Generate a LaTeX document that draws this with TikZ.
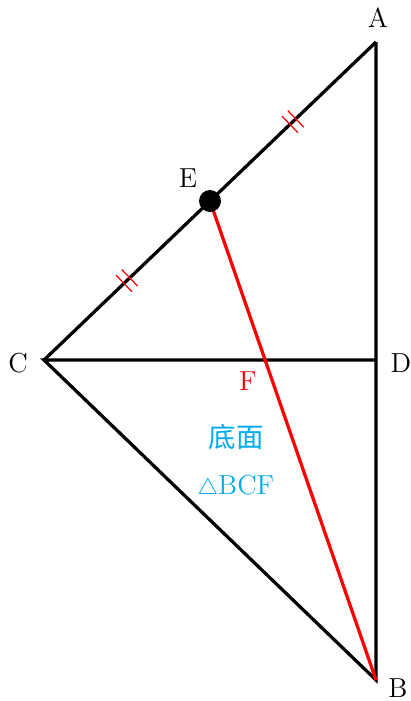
\documentclass[tikz,border=0pt]{standalone}
\usepackage{fontspec}
\newfontfamily\cjk{Noto Sans CJK SC}
\usetikzlibrary{calc, decorations.markings}

\definecolor{cBase}{RGB}{0,170,235}

\begin{document}
\begin{tikzpicture}[x=0.4pt, y=-0.4pt, font=\fontsize{11}{13}\selectfont,
  edge/.style={line width=1.3pt},
  eqmark/.style={postaction={decorate, decoration={markings,
    mark=at position 0.5 with {\draw[red, line width=0.5pt]
      (-1.6pt,-4.6pt) -- (-1.6pt,4.6pt) (1.6pt,-4.6pt) -- (1.6pt,4.6pt);}}}}]

%% Geometry in pixels of the page, y grows downwards.
\useasboundingbox (0,0) rectangle (411,701);

%% ---------- vertices ----------
\coordinate (A) at (376,42);
\coordinate (C) at (44,360);
\coordinate (D) at (376,360);
\coordinate (B) at (376,680);
\coordinate (E) at ($(C)!0.5!(A)$);
\coordinate (F) at (265,360);

%% ---------- the solid ----------
\draw[edge, eqmark] (C) -- (E);
\draw[edge, eqmark] (E) -- (A);
\draw[edge] (A) -- (D) -- (B) -- (C) -- (D);
\draw[edge, red] (E) -- (B);
\fill (E) circle (4.4pt);

%% ---------- labels ----------
\node (lA) at (378,18) {A};
\node (lB) at (398,688) {B};
\node (lC) at (18,363) {C};
\node (lD) at (401,363) {D};
\node (lE) at (188,178) {E};
\node[red] (lF) at (248,381) {F};

\node[cBase] (base) at (236,437) {\cjk 底面};
\node[cBase] (tri) at (236,487) {{\small$\triangle$}BCF};

\end{tikzpicture}
\end{document}
